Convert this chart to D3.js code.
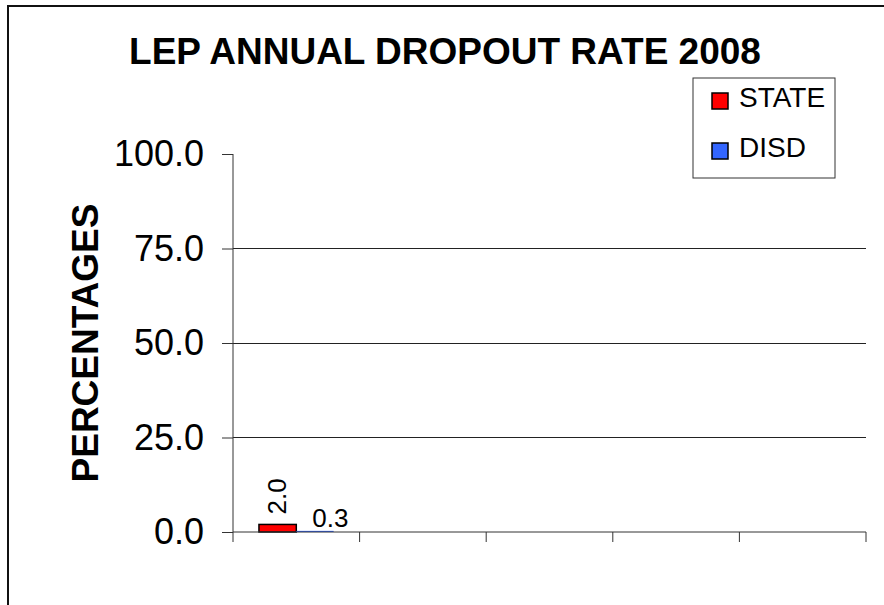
<!DOCTYPE html>
<html>
<head>
<meta charset="utf-8">
<script src="https://cdn.jsdelivr.net/npm/d3@7"></script>
<style>
  html, body { margin: 0; padding: 0; background: #fff; }
  svg text { font-family: Arial, "Liberation Sans", sans-serif; }
</style>
</head>
<body>
<div id="chart"></div>
<script>
var categories = ["C1", "C2", "C3", "C4", "C5"];
var series = ["STATE", "DISD"];
var colors = ["#FF0000", "#3366FF"];
var stateValues = [2.0, null, null, null, null];
var disdValues = [0.3, null, null, null, null];
var yTicks = [0, 25, 50, 75, 100];
var title = "LEP ANNUAL DROPOUT RATE 2008";
var yTitle = "PERCENTAGES";

function draw_chart() {
    const W = 884, H = 605;
    const LEFT = 233, RIGHT = 866, TOP = 154, BOTTOM = 532;

    var svg = d3.select("#chart").append("svg")
        .attr("width", W)
        .attr("height", H);

    // outer frame, right and bottom edges run off the page
    svg.append("rect")
        .attr("x", 8).attr("y", 6)
        .attr("width", 950).attr("height", 700)
        .attr("fill", "#fff")
        .attr("stroke", "#111")
        .attr("stroke-width", 2);

    var x0 = d3.scaleBand().domain(categories).range([LEFT, RIGHT]);
    var x1 = d3.scaleBand().domain(series).range([x0.bandwidth() * 0.205, x0.bandwidth() * 0.795]);
    var y = d3.scaleLinear().domain([0, 100]).range([BOTTOM, TOP]);

    // gridlines
    svg.append("g")
        .selectAll("line")
        .data(yTicks.filter(function (d) { return d > 0 && d < 100; }))
        .enter().append("line")
        .attr("x1", LEFT).attr("x2", RIGHT)
        .attr("y1", function (d) { return y(d); })
        .attr("y2", function (d) { return y(d); })
        .attr("stroke", "#222")
        .attr("stroke-width", 1)
        .attr("shape-rendering", "crispEdges");

    var rows = categories.map(function (c, i) {
        return { cat: c, values: [stateValues[i], disdValues[i]] };
    });

    var groups = svg.append("g")
        .selectAll("g")
        .data(rows)
        .enter().append("g")
        .attr("transform", function (d) { return "translate(" + x0(d.cat) + ",0)"; });

    groups.selectAll("rect")
        .data(function (d) {
            return d.values.map(function (v, j) { return { key: series[j], v: v, j: j }; })
                .filter(function (e) { return e.v != null; });
        })
        .enter().append("rect")
        .attr("x", function (d) { return x1(d.key); })
        .attr("width", x1.bandwidth())
        .attr("y", function (d) { return y(d.v); })
        .attr("height", function (d) { return y(0) - y(d.v); })
        .attr("fill", function (d) { return colors[d.j]; })
        .attr("stroke", function (d) { return d.j === 0 ? "#000" : "none"; })
        .attr("stroke-width", 1.5);

    // data labels: STATE rotated, DISD horizontal
    groups.filter(function (d) { return d.values[0] != null; })
        .append("text")
        .attr("transform", function (d) {
            var cx = x1("STATE") + x1.bandwidth() / 2 + 8;
            return "translate(" + cx + "," + (y(d.values[0]) - 10) + ") rotate(-90)";
        })
        .attr("font-size", 26)
        .attr("text-anchor", "start")
        .text(function (d) { return d.values[0].toFixed(1); });

    groups.filter(function (d) { return d.values[1] != null; })
        .append("text")
        .attr("x", function (d) { return x1("DISD") + 16; })
        .attr("y", function (d) { return y(d.values[1]) - 4; })
        .attr("font-size", 26)
        .text(function (d) { return d.values[1].toFixed(1); });

    // y axis
    var yAxis = svg.append("g")
        .attr("transform", "translate(" + LEFT + ",0)")
        .call(d3.axisLeft(y).tickValues(yTicks).tickSize(11).tickPadding(18)
            .tickFormat(function (d) { return d.toFixed(1); }));
    yAxis.select(".domain").attr("stroke", "#333").attr("d", "M0," + TOP + "V" + (BOTTOM + 10));
    yAxis.selectAll(".tick line").attr("stroke", "#333");
    yAxis.selectAll(".tick text")
        .attr("font-size", 36)
        .attr("font-family", "Arial, 'Liberation Sans', sans-serif")
        .attr("fill", "#000");

    // x axis, ticks at category boundaries, no labels
    var xAxis = svg.append("g")
        .attr("transform", "translate(0," + BOTTOM + ")");
    xAxis.append("line")
        .attr("x1", LEFT).attr("x2", RIGHT)
        .attr("stroke", "#333");
    xAxis.selectAll(".xt")
        .data(categories.slice(1).concat(["end"]))
        .enter().append("line")
        .attr("class", "xt")
        .attr("x1", function (d) { return d === "end" ? RIGHT : x0(d); })
        .attr("x2", function (d) { return d === "end" ? RIGHT : x0(d); })
        .attr("y1", 0).attr("y2", 10)
        .attr("stroke", "#333");

    // titles
    svg.append("text")
        .attr("x", 445).attr("y", 64)
        .attr("text-anchor", "middle")
        .attr("font-size", 37)
        .attr("font-weight", "bold")
        .text(title);

    svg.append("text")
        .attr("transform", "translate(98," + ((TOP + BOTTOM) / 2) + ") rotate(-90)")
        .attr("text-anchor", "middle")
        .attr("font-size", 37)
        .attr("font-weight", "bold")
        .text(yTitle);

    // legend
    var legend = svg.append("g");
    legend.append("rect")
        .attr("x", 693).attr("y", 78)
        .attr("width", 142).attr("height", 100)
        .attr("fill", "#fff")
        .attr("stroke", "#333")
        .attr("stroke-width", 1);
    var items = legend.selectAll(".item")
        .data(series)
        .enter().append("g")
        .attr("class", "item")
        .attr("transform", function (d, i) { return "translate(712," + (93 + i * 50) + ")"; });
    items.append("rect")
        .attr("width", 16).attr("height", 16)
        .attr("fill", function (d, i) { return colors[i]; })
        .attr("stroke", "#000")
        .attr("stroke-width", 1.5);
    items.append("text")
        .attr("x", 27).attr("y", 14)
        .attr("font-size", 28)
        .text(function (d) { return d; });
}

draw_chart();
</script>
</body>
</html>
